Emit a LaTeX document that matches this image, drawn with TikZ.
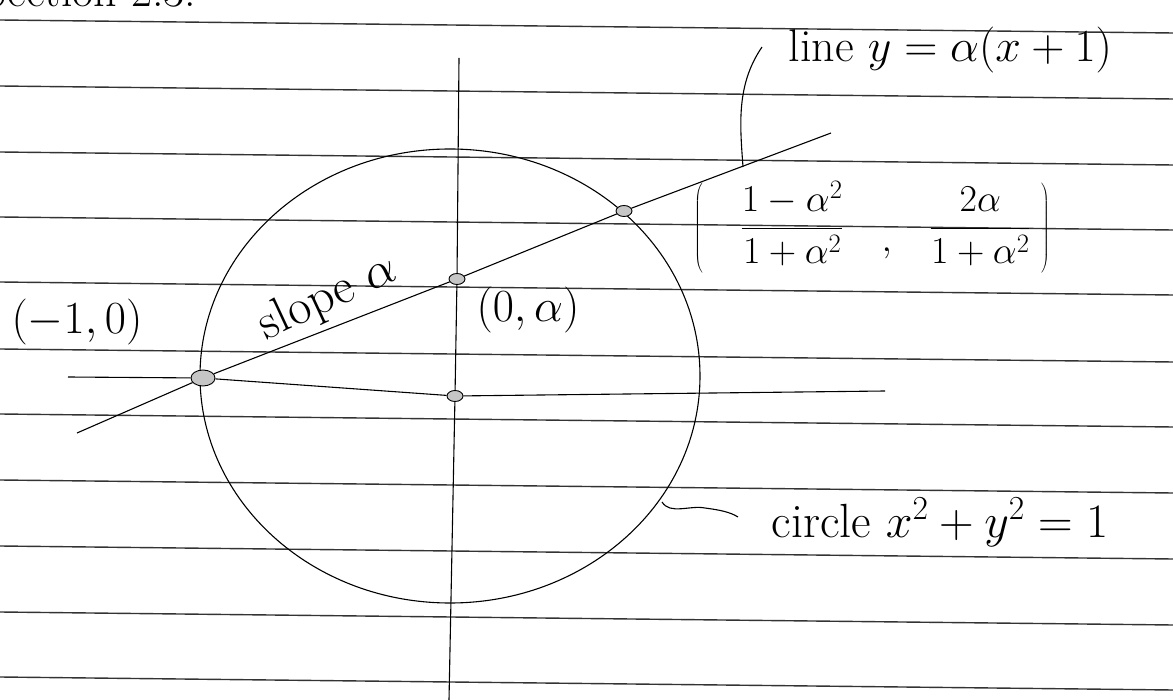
\RequirePackage{fix-cm}
\documentclass[tikz,border=0pt]{standalone}
\usepackage{tikz}
\usetikzlibrary{shapes.geometric}

\begin{document}
\begin{tikzpicture}[x=1pt,y=-1pt,line width=1.1pt]
	\useasboundingbox (0,0) rectangle (1173,700);
	\tikzset{rule/.style={line width=1.4pt,black!80},
		dot/.style={ellipse,draw,fill=gray!45,line width=0.9pt,minimum width=16pt,minimum height=11pt,inner sep=0pt},
		hand/.style={font=\fontsize{46}{50}\selectfont}}
	% ruled paper
	\draw[rule] (0,20) -- (1173,33);
	\draw[rule] (0,86) -- (1173,99);
	\draw[rule] (0,152) -- (1173,165);
	\draw[rule] (0,217) -- (1173,230);
	\draw[rule] (0,282) -- (1173,295);
	\draw[rule] (0,349) -- (1173,362);
	\draw[rule] (0,414) -- (1173,427);
	\draw[rule] (0,480) -- (1173,493);
	\draw[rule] (0,546) -- (1173,559);
	\draw[rule] (0,612) -- (1173,625);
	\draw[rule] (0,677) -- (1173,690);
	% heading, cut off by the page
	\node (head) [hand,anchor=base west] at (-20,7) {Section 2.3:};

	% circle
	\draw (450,376) ellipse [x radius=250, y radius=227];

	% points
	\node (neg) [dot,minimum width=24pt,minimum height=16pt] at (203,378) {};
	\node (yint) [dot] at (457,279) {};
	\node (pt) [dot] at (624,211) {};
	\node (orig) [dot] at (455,396) {};

	% axes
	\coordinate (xl) at (68,377);
	\coordinate (xr) at (885,391);
	\coordinate (yt) at (459,58);
	\coordinate (yb) at (449,700);
	\draw (xl) -- (neg) -- (orig) -- (xr);
	\draw (yt) -- (yint) -- (orig) -- (yb);

	% the line through (-1,0)
	\coordinate (ll) at (77,433);
	\coordinate (lr) at (831,133);
	\draw (ll) -- (neg) -- (yint) -- (pt) -- (lr);

	% labels
	\node (negl) [hand] at (77,322) {$(-1,0)$};
	\node (yintl) [hand] at (528,310) {$(0,\alpha)$};
	\node (slopel) [hand,font=\fontsize{50}{54}\selectfont,rotate=25] at (328,298) {slope $\alpha$};
	\node (ptl) [font=\fontsize{38}{44}\selectfont] at (872,227)
		{$\displaystyle\left(\rule[-32pt]{0pt}{82pt}\quad\frac{1-\alpha^2}{1+\alpha^2}\quad\raisebox{-14pt}{$,$}\quad\frac{2\alpha}{1+\alpha^2}\;\right)$};
	\node (linel) [hand,anchor=base west] at (785,62) {line $y=\alpha(x+1)$};
	\node (circl) [hand,font=\fontsize{48}{54}\selectfont,anchor=base west] at (768,537) {circle $x^2+y^2=1$};

	% leaders
	\coordinate (lt) at (762,47);
	\coordinate (lb) at (743,167);
	\draw (lt) .. controls (736,85) and (740,125) .. (lb);
	\coordinate (ct) at (662,502);
	\coordinate (cb) at (738,517);
	\draw (ct) .. controls (670,515) and (690,505) .. (705,508) .. controls (720,510) and (730,512) .. (cb);
\end{tikzpicture}
\end{document}
